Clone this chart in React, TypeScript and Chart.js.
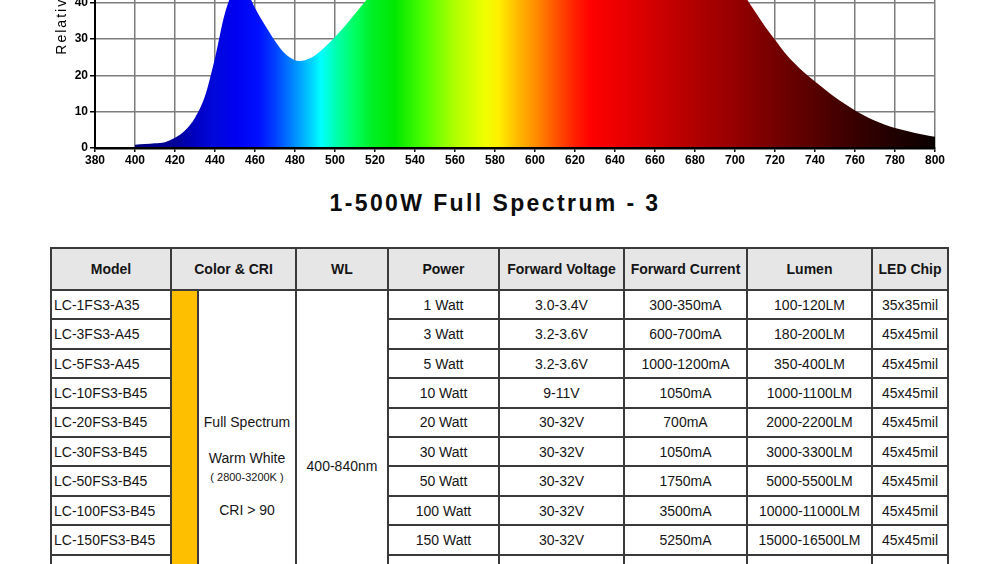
import React, { useEffect, useRef } from "react";
import { Chart, registerables } from "chart.js";

Chart.register(...registerables);

// ---- spectrum data (nm, relative intensity %) ----
const wavelengths = [
  400, 405, 410, 415, 420, 425, 430, 435, 440, 445, 450, 452, 455, 460, 465, 470, 475, 480, 482, 485,
  490, 495, 500, 505, 510, 515, 520, 525, 530, 540, 550, 560, 570, 580, 590, 600, 610, 620, 630, 640,
  650, 660, 670, 680, 690, 695, 700, 705, 710, 715, 720, 725, 730, 735, 740, 745, 750, 755, 760, 765,
  770, 775, 780, 785, 790, 795, 800,
];
const intensity = [
  0.9, 1.1, 1.3, 1.6, 2.8, 4.8, 8.3, 14.3, 24.8, 37.2, 44, 45, 44, 38.6, 33.8, 29.5, 26, 24.2, 24.0, 24.2,
  25.5, 27.8, 30.6, 33.6, 37, 40.3, 43.5, 46.5, 49.5, 54.5, 59, 63.5, 67.5, 71.5, 75.5, 80, 85, 90, 95, 98,
  100, 99, 93, 82, 65, 55, 46.5, 41.8, 37.6, 33.5, 29.8, 26.2, 23.2, 20.6, 18.3, 16.1, 14.0, 12.1, 10.3, 8.8,
  7.5, 6.4, 5.5, 4.8, 4.1, 3.6, 3.1,
];

const xMin = 380;
const xMax = 800;
const xStep = 20;
const yMin = 0;
const yMax = 100;
const yStep = 10;
const yTitle = "Relative Intensity (%)";

// spectral colour stops (nm -> colour)
const spectrumStops: [number, string][] = [
  [400, "#000080"], [420, "#00009a"], [430, "#0000c0"], [440, "#0008dc"], [450, "#0000f0"],
  [462, "#0010ff"], [470, "#0040ff"], [480, "#0090ff"], [488, "#00d0ff"], [493, "#00ffff"],
  [500, "#00ffb4"], [510, "#00ff60"], [518, "#00f028"], [530, "#00e800"], [545, "#50ff00"],
  [560, "#b0ff00"], [575, "#f0ff00"], [582, "#ffef00"], [590, "#ffc000"], [600, "#ff9000"],
  [610, "#ff5500"], [620, "#ff2000"], [628, "#ff0000"], [650, "#e00000"], [680, "#b00000"],
  [700, "#960000"], [720, "#740000"], [740, "#560000"], [760, "#380000"], [780, "#200000"],
  [800, "#0a0000"],
];

// ---- table data ----
const headers = ["Model", "Color & CRI", "WL", "Power", "Forward Voltage", "Forward Current", "Lumen", "LED Chip"];
const models = ["LC-1FS3-A35", "LC-3FS3-A45", "LC-5FS3-A45", "LC-10FS3-B45", "LC-20FS3-B45", "LC-30FS3-B45", "LC-50FS3-B45", "LC-100FS3-B45", "LC-150FS3-B45", "", "", ""];
const powers = ["1 Watt", "3 Watt", "5 Watt", "10 Watt", "20 Watt", "30 Watt", "50 Watt", "100 Watt", "150 Watt", "", "", ""];
const voltages = ["3.0-3.4V", "3.2-3.6V", "3.2-3.6V", "9-11V", "30-32V", "30-32V", "30-32V", "30-32V", "30-32V", "", "", ""];
const currents = ["300-350mA", "600-700mA", "1000-1200mA", "1050mA", "700mA", "1050mA", "1750mA", "3500mA", "5250mA", "", "", ""];
const lumens = ["100-120LM", "180-200LM", "350-400LM", "1000-1100LM", "2000-2200LM", "3000-3300LM", "5000-5500LM", "10000-11000LM", "15000-16500LM", "", "", ""];
const chips = ["35x35mil", "45x45mil", "45x45mil", "45x45mil", "45x45mil", "45x45mil", "45x45mil", "45x45mil", "45x45mil", "", "", ""];
const colorLines = ["Full Spectrum", "Warm White", "( 2800-3200K )", "CRI > 90"];
const wlText = "400-840nm";
const chartTitle = "1-500W Full Spectrum - 3";

const FONT = 'Arial, "Liberation Sans", sans-serif';

const spacingPlugin = {
  id: "titleSpacing",
  beforeDraw(chart: any) {
    chart.ctx.letterSpacing = "2px";
  },
  beforeDatasetsDraw(chart: any) {
    chart.ctx.letterSpacing = "0px";
  },
};

function SpectrumChart() {
  const ref = useRef<HTMLCanvasElement | null>(null);
  useEffect(() => {
    if (!ref.current) return;
    const chart = new Chart(ref.current, {
      type: "line",
      data: {
        datasets: [
          {
            data: wavelengths.map((w, i) => ({ x: w, y: intensity[i] })),
            fill: "origin",
            borderWidth: 0,
            borderColor: "rgba(0,0,0,0)",
            pointRadius: 0,
            cubicInterpolationMode: "monotone",
            backgroundColor: (ctx: any) => {
              const c = ctx.chart;
              if (!c.chartArea) return "#00f";
              const xs = c.scales.x;
              const x0 = xs.getPixelForValue(xMin);
              const x1 = xs.getPixelForValue(xMax);
              const g = c.ctx.createLinearGradient(x0, 0, x1, 0);
              spectrumStops.forEach(([nm, col]) => g.addColorStop((nm - xMin) / (xMax - xMin), col));
              return g;
            },
          },
        ],
      },
      options: {
        responsive: false,
        animation: false,
        layout: { padding: { left: 44, right: 65, top: 45, bottom: 0 } },
        plugins: { legend: { display: false }, tooltip: { enabled: false } },
        scales: {
          x: {
            type: "linear",
            min: xMin,
            max: xMax,
            ticks: {
              stepSize: xStep,
              color: "#000",
              font: { family: FONT, size: 12, weight: "bold" },
              padding: 1,
              z: 1,
              maxRotation: 0,
              autoSkip: false,
            },
            grid: { color: "#7d7d7d", lineWidth: 1.5, tickLength: 4, tickColor: "#000" },
            border: { color: "#000", width: 2.5, z: 1 },
            afterFit: (s: any) => {
              s.height = 22;
            },
          },
          y: {
            min: yMin,
            max: yMax,
            ticks: {
              stepSize: yStep,
              color: "#000",
              font: { family: FONT, size: 12, weight: "bold" },
              padding: 2,
              z: 1,
            },
            grid: { color: "#7d7d7d", lineWidth: 1.5, tickLength: 5, tickColor: "#000" },
            border: { color: "#000", width: 2, z: 1 },
            title: {
              display: true,
              text: yTitle,
              color: "#000",
              font: { family: FONT, size: 14 },
              padding: { top: 10, bottom: 0 },
            },
            afterFit: (s: any) => {
              s.width = 51;
            },
          },
        },
      } as any,
      plugins: [spacingPlugin],
    });
    return () => chart.destroy();
  }, []);
  return (
    <canvas
      ref={ref}
      width={1000}
      height={430}
      style={{ position: "absolute", left: 0, top: -260, width: 1000, height: 430 }}
    />
  );
}

const cellBorder = "2px solid #3a3a3a";

export default function App() {
  const td: React.CSSProperties = {
    border: cellBorder,
    textAlign: "center",
    padding: 0,
    fontSize: 14,
    color: "#151515",
    whiteSpace: "nowrap",
    overflow: "hidden",
  };
  const th: React.CSSProperties = {
    ...td,
    fontWeight: "bold",
    background: "#e6e6e6",
  };
  const colWidths = [120, 27, 98, 92, 111, 125, 123, 125, 76];
  const nRows = models.length;
  return (
    <div
      style={{
        position: "absolute",
        left: 0,
        top: 0,
        width: 1000,
        height: 564,
        overflow: "hidden",
        background: "#fff",
        fontFamily: FONT,
      }}
    >
      <SpectrumChart />
      <div
        style={{
          position: "absolute",
          left: 0,
          top: 190,
          width: 990,
          textAlign: "center",
          fontWeight: "bold",
          fontSize: 23,
          lineHeight: "26px",
          letterSpacing: "2.4px",
          color: "#0d0d0d",
        }}
      >
        {chartTitle}
      </div>
      <table
        style={{
          position: "absolute",
          left: 50,
          top: 247,
          borderCollapse: "collapse",
          tableLayout: "fixed",
          width: 899,
        }}
      >
        <colgroup>
          {colWidths.map((w, i) => (
            <col key={i} style={{ width: w }} />
          ))}
        </colgroup>
        <tbody>
          <tr style={{ height: 42 }}>
            <th style={th}>{headers[0]}</th>
            <th style={th} colSpan={2}>{headers[1]}</th>
            {headers.slice(2).map((h) => (
              <th key={h} style={th}>{h}</th>
            ))}
          </tr>
          {models.map((m, i) => (
            <tr key={i} style={{ height: 29.42 }}>
              <td style={{ ...td, textAlign: "left", paddingLeft: 2 }}>{m}</td>
              {i === 0 && (
                <>
                  <td style={{ ...td, background: "#fdbf00" }} rowSpan={nRows}></td>
                  <td style={{ ...td, verticalAlign: "middle" }} rowSpan={nRows}>
                    <div style={{ display: "flex", flexDirection: "column", alignItems: "center" }}>
                      <div style={{ lineHeight: "18px" }}>{colorLines[0]}</div>
                      <div style={{ lineHeight: "18px", marginTop: 18 }}>{colorLines[1]}</div>
                      <div style={{ lineHeight: "14px", marginTop: 3, fontSize: 11 }}>{colorLines[2]}</div>
                      <div style={{ lineHeight: "18px", marginTop: 17 }}>{colorLines[3]}</div>
                    </div>
                  </td>
                  <td style={{ ...td, verticalAlign: "middle" }} rowSpan={nRows}>{wlText}</td>
                </>
              )}
              <td style={td}>{powers[i]}</td>
              <td style={td}>{voltages[i]}</td>
              <td style={td}>{currents[i]}</td>
              <td style={td}>{lumens[i]}</td>
              <td style={td}>{chips[i]}</td>
            </tr>
          ))}
        </tbody>
      </table>
    </div>
  );
}
